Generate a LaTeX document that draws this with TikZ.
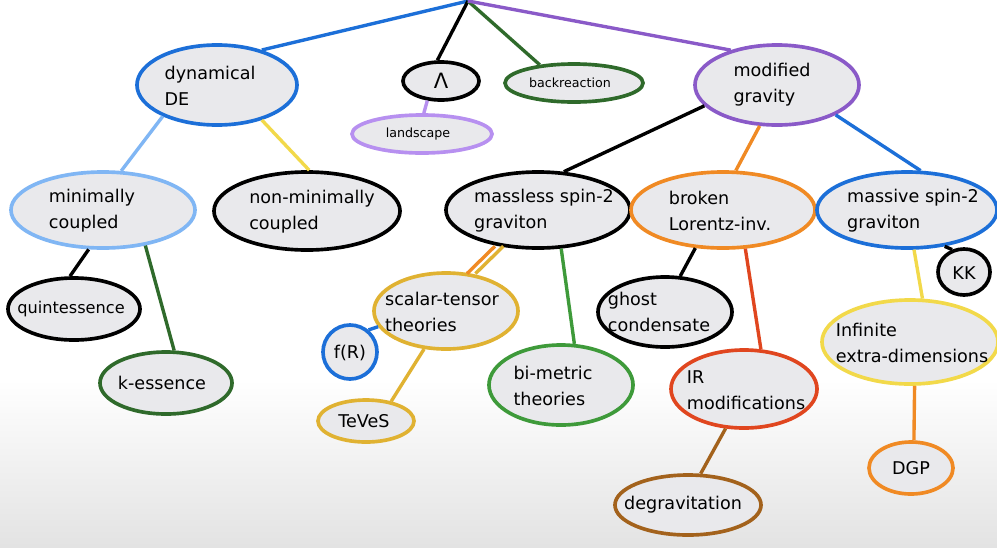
\documentclass[tikz,border=0pt]{standalone}
\usepackage{fontspec}
\setmainfont{DejaVu Sans}
\usetikzlibrary{shapes.geometric}

\definecolor{bubblefill}{HTML}{E9E9EC}
\definecolor{deblue}{HTML}{1C6FD8}
\definecolor{lightblue}{HTML}{80B6F4}
\definecolor{crayonyellow}{HTML}{F2D94A}
\definecolor{mgpurple}{HTML}{8A5AC8}
\definecolor{lightpurple}{HTML}{B790F0}
\definecolor{darkgreen}{HTML}{2F6A2B}
\definecolor{midgreen}{HTML}{3E9A3A}
\definecolor{crayonorange}{HTML}{F08A24}
\definecolor{gold}{HTML}{E0B232}
\definecolor{redorange}{HTML}{E0461F}
\definecolor{brown}{HTML}{A3621C}

\tikzset{
  bubble/.style={ellipse,draw=#1,line width=2.6pt,fill=bubblefill,inner sep=0pt},
  txt/.style={align=left,font=\fontsize{12.5}{18.5}\selectfont},
  smalltxt/.style={align=left,font=\fontsize{9}{11}\selectfont},
  link/.style={draw=#1,line width=2.4pt},
}

\begin{document}
\begin{tikzpicture}[x=0.025cm,y=-0.025cm]
		% background
		\useasboundingbox (0,0) rectangle (997,547);
		\fill[white] (0,0) rectangle (997,380);
		\fill[top color=white,bottom color=gray!22] (0,380) rectangle (997,547);
		\coordinate (top) at (468,1);
		% first row
		\node[bubble=deblue,minimum width=4cm,minimum height=2cm] (dyn) at (217,85) {};
		\node[txt] (dyn-t) at (210,86) {dynamical\\DE};
		\node[bubble=black,minimum width=1.9cm,minimum height=0.95cm] (lam) at (441,81) {};
		\node[txt,font=\fontsize{15}{18}\selectfont] (lam-t) at (441,81) {Λ};
		\node[bubble=lightpurple,minimum width=3.5cm,minimum height=0.95cm] (land) at (422,134) {};
		\node[smalltxt] (land-t) at (418,134) {landscape};
		\node[bubble=darkgreen,minimum width=3.45cm,minimum height=0.95cm] (back) at (574,83) {};
		\node[smalltxt] (back-t) at (570,83) {backreaction};
		\node[bubble=mgpurple,minimum width=4.1cm,minimum height=2cm] (mod) at (777,85) {};
		\node[txt] (mod-t) at (772,85) {modified\\gravity};
		% second row
		\node[bubble=lightblue,minimum width=4.6cm,minimum height=1.9cm] (min) at (103,210) {};
		\node[txt] (min-t) at (92,211) {minimally\\coupled};
		\node[bubble=black,minimum width=4.65cm,minimum height=1.95cm] (nonmin) at (307,211) {};
		\node[txt] (nonmin-t) at (312,212) {non-minimally\\coupled};
		\node[bubble=black,minimum width=4.6cm,minimum height=1.9cm] (massless) at (538,210) {};
		\node[txt] (massless-t) at (544,211) {massless spin-2\\graviton};
		\node[bubble=crayonorange,minimum width=4.6cm,minimum height=1.9cm] (broken) at (723,210) {};
		\node[txt] (broken-t) at (720,211) {broken\\Lorentz-inv.};
		\node[bubble=deblue,minimum width=4.5cm,minimum height=1.9cm] (massive) at (907,210) {};
		\node[txt] (massive-t) at (913,211) {massive spin-2\\graviton};
		% third row
		\node[bubble=black,minimum width=3.3cm,minimum height=1.55cm] (quint) at (74,309) {};
		\node[txt,font=\fontsize{11.5}{14}\selectfont] (quint-t) at (71,309) {quintessence};
		\node[bubble=darkgreen,minimum width=3.3cm,minimum height=1.55cm] (kess) at (166,383) {};
		\node[txt] (kess-t) at (162,383) {k-essence};
		\node[bubble=gold,minimum width=3.6cm,minimum height=1.9cm] (st) at (446,311) {};
		\node[txt] (st-t) at (442,312) {scalar-tensor\\theories};
		\node[bubble=deblue,minimum width=1.35cm,minimum height=1.35cm] (fR) at (350,352) {};
		\node[txt] (fR-t) at (350,353) {f(R)};
		\node[bubble=gold,minimum width=2.4cm,minimum height=1.05cm] (teves) at (366,421) {};
		\node[txt] (teves-t) at (364,421) {TeVeS};
		\node[bubble=midgreen,minimum width=3.6cm,minimum height=2cm] (bimetric) at (561,385) {};
		\node[txt] (bimetric-t) at (553,386) {bi-metric\\theories};
		\node[bubble=black,minimum width=3.35cm,minimum height=1.75cm] (ghost) at (665,312) {};
		\node[txt] (ghost-t) at (659,312) {ghost\\condensate};
		\node[bubble=redorange,minimum width=3.65cm,minimum height=1.95cm] (IR) at (744,389) {};
		\node[txt] (IR-t) at (746,390) {IR\\modifications};
		\node[bubble=brown,minimum width=3.65cm,minimum height=1.5cm] (degrav) at (688,505) {};
		\node[txt] (degrav-t) at (683,505) {degravitation};
		\node[bubble=black,minimum width=1.3cm,minimum height=1.15cm] (KK) at (964,272) {};
		\node[txt,font=\fontsize{12.5}{14}\selectfont] (KK-t) at (964,273) {KK};
		\node[bubble=crayonyellow,minimum width=4.4cm,minimum height=2.1cm] (inf) at (910,342) {};
		\node[txt] (inf-t) at (912,343) {Infinite\\extra-dimensions};
		\node[bubble=crayonorange,minimum width=2.1cm,minimum height=1.3cm] (dgp) at (911,468) {};
		\node[txt] (dgp-t) at (911,468) {DGP};
		% connectors
		\draw[link=deblue] (top) -- (dyn.38);
		\draw[link=black] (top) -- (lam.100);
		\draw[link=darkgreen] (top) -- (back.152);
		\draw[link=mgpurple] (top) -- (mod.143);
		\draw[link=lightpurple] (lam.235) -- (land.85);
		\draw[link=lightblue] (dyn.210) -- (min.65);
		\draw[link=crayonyellow] (dyn.-38) -- (nonmin.87);
		\draw[link=black] (mod.196) -- (massless.56);
		\draw[link=crayonorange] (mod.247) -- (broken.72);
		\draw[link=deblue] (mod.-27) -- (massive.71);
		\draw[link=black] (min.250) -- (quint.97);
		\draw[link=darkgreen] (min.-40) -- (kess.76);
		\draw[link=crayonorange,transform canvas={xshift=-3pt}] (massless.223) -- (st.56);
		\draw[link=gold,transform canvas={xshift=3pt}] (massless.223) -- (st.56);
		\draw[link=midgreen] (massless.-59) -- (bimetric.72);
		\draw[link=deblue] (st.193) -- (fR.50);
		\draw[link=gold] (st.240) -- (teves.38);
		\draw[link=black] (broken.234) -- (ghost.67);
		\draw[link=redorange] (broken.-60) -- (IR.67);
		\draw[link=brown] (IR.245) -- (degrav.68);
		\draw[link=black] (massive.-44) -- (KK.118);
		\draw[link=crayonyellow] (massive.-80) -- (inf.74);
		\draw[link=crayonorange] (inf.-84) -- (dgp.84);
	\end{tikzpicture}
\end{document}
